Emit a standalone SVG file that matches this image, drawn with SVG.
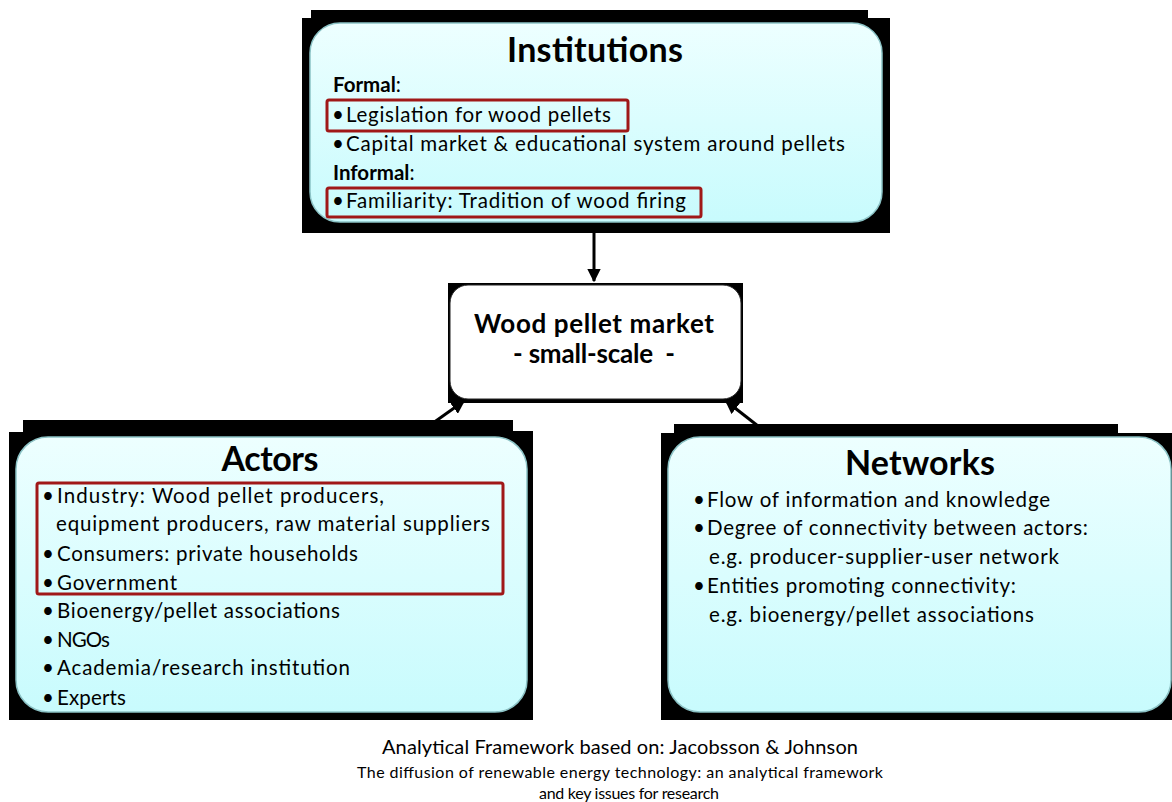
<svg xmlns="http://www.w3.org/2000/svg" width="1172" height="802" viewBox="0 0 1172 802">
<defs>
<linearGradient id="cyan" x1="0" y1="0" x2="0" y2="1">
<stop offset="0" stop-color="#edffff"/>
<stop offset="1" stop-color="#c8fbfd"/>
</linearGradient>
<marker id="ah" viewBox="0 0 10 10" refX="9" refY="5" markerWidth="4.6" markerHeight="4.6" orient="auto" markerUnits="strokeWidth">
<path d="M0,0 L10,5 L0,10 Z" fill="#000"/>
</marker>
<style>
.shadow{fill:#000}
.box{fill:url(#cyan);stroke:#8cc3c6;stroke-width:1.5}
.hl{fill:none;stroke:#a01818;stroke-width:3}
.t{font-family:Lato,"Liberation Sans",sans-serif;font-size:20.5px;fill:#000}
.b{font-weight:bold}
.mk{font-family:Lato,"Liberation Sans",sans-serif;font-size:26px;font-weight:bold;fill:#000;text-anchor:middle}
.title{font-family:Lato,"Liberation Sans",sans-serif;font-size:34px;font-weight:bold;fill:#000}
.cap{font-family:Lato,"Liberation Sans",sans-serif;fill:#000;text-anchor:middle}
.conn{stroke:#000;stroke-width:3;fill:none}
</style>
</defs>
<rect width="1172" height="802" fill="#fff"/>

<g id="connectors">
<line class="conn" x1="594" y1="224" x2="594" y2="281" marker-end="url(#ah)"/>
<line class="conn" x1="433" y1="423" x2="464" y2="401" marker-end="url(#ah)"/>
<line class="conn" x1="758" y1="426" x2="726" y2="401" marker-end="url(#ah)"/>
</g>

<g id="institutions">
<path class="shadow" d="M311,10 H868 V18 H890 V233 H302 V18 H311 Z"/>
<rect class="box" x="310" y="23" width="572" height="199" rx="30"/>
<text class="title" x="595" y="62" text-anchor="middle" textLength="176">Institutions</text>
<text class="t" x="333" y="92"><tspan class="b">Formal</tspan>:</text>
<rect class="hl" x="327" y="100" width="301" height="31" rx="2"/>
<text class="t" x="332" y="122">•</text>
<text class="t" x="346" y="122" textLength="265">Legislation for wood pellets</text>
<text class="t" x="332" y="151">•</text>
<text class="t" x="346" y="151" textLength="499">Capital market &amp; educational system around pellets</text>
<text class="t" x="333" y="180"><tspan class="b">Informal</tspan>:</text>
<rect class="hl" x="327" y="188" width="374" height="29" rx="2"/>
<text class="t" x="332" y="208">•</text>
<text class="t" x="346" y="208" textLength="340">Familiarity: Tradition of wood firing</text>
</g>

<g id="market">
<rect class="shadow" x="448" y="283" width="295" height="120"/>
<rect x="450" y="285" width="291" height="114" rx="18" fill="#fff" stroke="#222" stroke-width="1"/>
<text class="mk" x="594" y="333" textLength="240">Wood pellet market</text>
<text class="mk" x="594" y="363" textLength="162" xml:space="preserve">- small-scale  -</text>
</g>

<g id="actors">
<path class="shadow" d="M23,420 H513 V431 H533 V720 H9 V432 H23 Z"/>
<rect class="box" x="16" y="437" width="511" height="275" rx="32"/>
<text class="title" x="270" y="471" text-anchor="middle" textLength="97">Actors</text>
<rect class="hl" x="37" y="483" width="466" height="111" rx="2"/>
<g class="t">
<text x="42" y="503">•</text><text x="57" y="503" textLength="327">Industry: Wood pellet producers,</text>
<text x="56" y="531" textLength="434">equipment producers, raw material suppliers</text>
<text x="42" y="561">•</text><text x="57" y="561" textLength="301">Consumers: private households</text>
<text x="42" y="590">•</text><text x="57" y="590" textLength="120">Government</text>
<text x="42" y="618">•</text><text x="57" y="618" textLength="283">Bioenergy/pellet associations</text>
<text x="42" y="647">•</text><text x="57" y="647" textLength="53">NGOs</text>
<text x="42" y="675">•</text><text x="57" y="675" textLength="293">Academia/research institution</text>
<text x="42" y="705">•</text><text x="57" y="705" textLength="69">Experts</text>
</g>
</g>

<g id="networks">
<path class="shadow" d="M674,424 H1118 V433 H1172 V720 H661 V433 H674 Z"/>
<rect class="box" x="668" y="437" width="503" height="275" rx="32"/>
<text class="title" x="920" y="475" text-anchor="middle" textLength="150">Networks</text>
<g class="t">
<text x="693" y="507">•</text><text x="707" y="507" textLength="343">Flow of information and knowledge</text>
<text x="693" y="535">•</text><text x="707" y="535" textLength="381">Degree of connectivity between actors:</text>
<text x="709" y="564" textLength="350">e.g. producer-supplier-user network</text>
<text x="693" y="593">•</text><text x="707" y="593" textLength="309">Entities promoting connectivity:</text>
<text x="709" y="622" textLength="325">e.g. bioenergy/pellet associations</text>
</g>
</g>

<g id="caption">
<text class="cap" x="620" y="754" font-size="20" textLength="476">Analytical Framework based on: Jacobsson &amp; Johnson</text>
<text class="cap" x="620" y="778" font-size="16" textLength="526">The diffusion of renewable energy technology: an analytical framework</text>
<text class="cap" x="629" y="799" font-size="16" textLength="180">and key issues for research</text>
</g>
</svg>
